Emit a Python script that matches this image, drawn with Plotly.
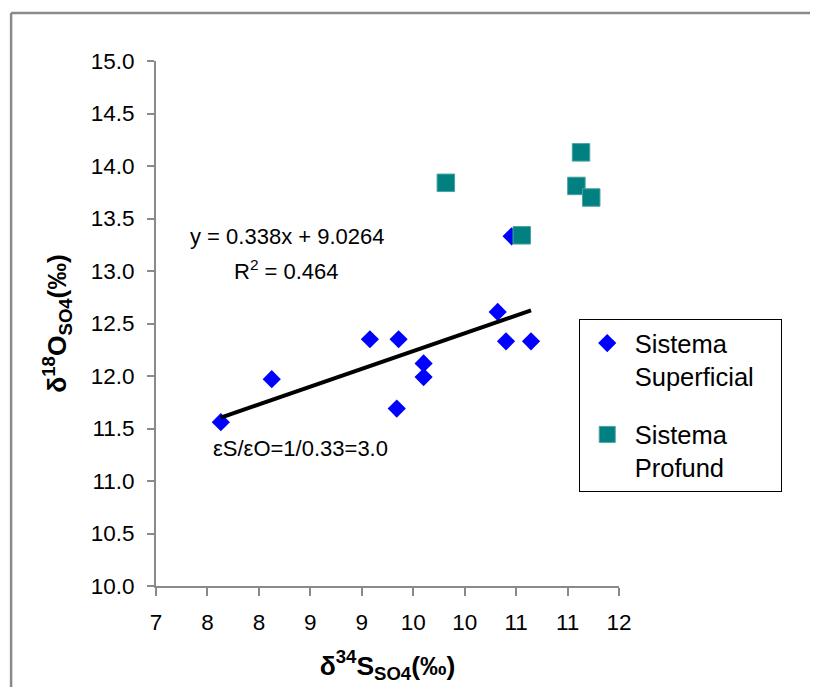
import numpy as np
import plotly.graph_objects as go

# ---- data ----
sup_x = [7.70, 8.25, 9.31, 9.62, 9.60, 9.89, 9.89, 10.69, 10.78, 11.05, 10.84]
sup_y = [11.56, 11.97, 12.35, 12.35, 11.69, 12.12, 11.99, 12.61, 12.33, 12.33, 13.33]

prof_x = [10.13, 11.59, 11.54, 11.70, 10.95]
prof_y = [13.84, 14.13, 13.81, 13.70, 13.34]

x_tick_vals = list(np.linspace(7, 12, 10))
x_tick_labels = ["7", "8", "8", "9", "9", "10", "10", "11", "11", "12"]
y_tick_vals = [10.0, 10.5, 11.0, 11.5, 12.0, 12.5, 13.0, 13.5, 14.0, 14.5, 15.0]

eq_text = "y = 0.338x + 9.0264"
r2_text = "R<sup>2</sup> = 0.464"
eps_text = "εS/εO=1/0.33=3.0"

FONT = "Arial, Liberation Sans, sans-serif"
GRAY = "#8a8a8a"

# plot-area geometry on screen (page body adds an 8px offset)
PL, PT, PW, PH = 156, 61, 463.3, 525
OFF = 8


def px(x):
    return (x - PL) / PW


def py(y):
    return (PT + PH - y) / PH


# linear trend of the superficial series
slope, intercept = np.polyfit(sup_x, sup_y, 1)
tx = np.array([min(sup_x), max(sup_x)])
ty = slope * tx + intercept

fig = go.Figure()
fig.add_trace(go.Scatter(
    x=sup_x, y=sup_y, mode="markers", name="Sistema<br>Superficial&nbsp;&nbsp;&nbsp;",
    marker=dict(symbol="diamond", size=14, color="#0000FF", line=dict(width=0)),
    legendgroup="a",
))
fig.add_trace(go.Scatter(
    x=prof_x, y=prof_y, mode="markers", name="Sistema<br>Profund",
    marker=dict(symbol="square", size=17.5, color="#008080",
                line=dict(width=1, color="#4aa3a3")),
    legendgroup="b",
))
fig.add_trace(go.Scatter(
    x=tx, y=ty, mode="lines", line=dict(color="black", width=4),
    showlegend=False, hoverinfo="skip",
))

fig.update_xaxes(
    range=[7, 12], tickvals=x_tick_vals, ticktext=x_tick_labels,
    showgrid=False, zeroline=False, showline=True, linecolor=GRAY, linewidth=2,
    ticks="outside", ticklen=8, tickwidth=2, tickcolor=GRAY,
    tickfont=dict(family=FONT, size=22.5, color="black"),
    ticklabelstandoff=7,
    title=dict(text="<b>δ<sup>34</sup>S<sub>SO4</sub>(‰)</b>",
               font=dict(family=FONT, size=26.5, color="black"), standoff=22),
)
fig.update_yaxes(
    range=[10, 15], tickvals=y_tick_vals, tickformat=".1f",
    showgrid=False, zeroline=False, showline=True, linecolor=GRAY, linewidth=2,
    ticks="outside", ticklen=7, tickwidth=2, tickcolor=GRAY,
    tickfont=dict(family=FONT, size=22.5, color="black"),
    ticklabelstandoff=8,
    title=dict(text="<b>δ<sup>18</sup>O<sub>SO4</sub>(‰)</b>",
               font=dict(family=FONT, size=26.5, color="black"), standoff=16),
)

ann_font = dict(family=FONT, size=22, color="black")
fig.add_annotation(x=px(188), y=py(236), xref="paper", yref="paper",
                   text=eq_text, showarrow=False, xanchor="left", yanchor="middle", font=ann_font)
fig.add_annotation(x=px(232), y=py(270), xref="paper", yref="paper",
                   text=r2_text, showarrow=False, xanchor="left", yanchor="middle", font=ann_font)
fig.add_annotation(x=px(211), y=py(448), xref="paper", yref="paper",
                   text=eps_text, showarrow=False, xanchor="left", yanchor="middle", font=ann_font)

# outer chart frame (top and left edges visible)
fig.add_shape(type="line", xref="paper", yref="paper",
              x0=px(11), x1=px(840), y0=py(13), y1=py(13),
              line=dict(color=GRAY, width=2.5))
fig.add_shape(type="line", xref="paper", yref="paper",
              x0=px(11), x1=px(11), y0=py(13), y1=py(720),
              line=dict(color=GRAY, width=2.5))

fig.update_layout(
    width=818, height=687,
    margin=dict(l=PL - OFF, r=818 - (PL - OFF) - PW, t=PT - OFF,
                b=687 - (PT - OFF) - PH, autoexpand=False),
    paper_bgcolor="white", plot_bgcolor="white",
    font=dict(family=FONT, color="black"),
    legend=dict(
        x=px(579), y=py(319), xanchor="left", yanchor="top",
        bordercolor="black", borderwidth=1, bgcolor="white",
        font=dict(family=FONT, size=25.5, color="black"),
        traceorder="grouped", tracegroupgap=22, valign="top",
        itemwidth=45,
    ),
)

fig.write_html("out.html")
